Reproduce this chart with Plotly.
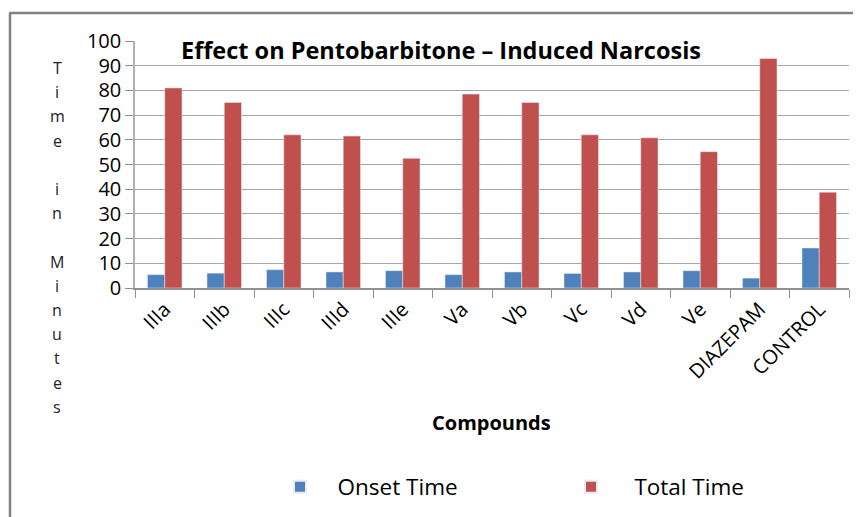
import plotly.graph_objects as go

categories = ["IIIa", "IIIb", "IIIc", "IIId", "IIIe", "Va", "Vb", "Vc", "Vd", "Ve", "DIAZEPAM", "CONTROL"]
onset_time = [5.4, 6.0, 7.4, 6.5, 7.0, 5.4, 6.5, 5.9, 6.5, 7.0, 4.0, 16.2]
total_time = [81.0, 75.1, 62.0, 61.5, 52.5, 78.5, 75.1, 62.0, 60.8, 55.2, 92.9, 38.8]
y_ticks = [0, 10, 20, 30, 40, 50, 60, 70, 80, 90, 100]
y_title = "Time in Minutes"

# page offset (default body margin of the html page)
OFF = 8
W, H = 861, 517
L = 135 - OFF
T = 41 - OFF
R = W - (849 - OFF)
B = H - (288 - OFF)
pw, ph = W - L - R, H - T - B

def px_x(x):
    return (x - OFF - L) / pw

def px_y(y):
    return (H - B - (y - OFF)) / ph

FONT = "Open Sans"
NB = "\u00a0"

fig = go.Figure()
fig.add_trace(go.Bar(x=categories, y=onset_time, name=NB * 3 + "Onset Time", marker_color="#4F81BD"))
fig.add_trace(go.Bar(x=categories, y=total_time, name=NB * 4 + "Total Time", marker_color="#C0504D"))

ann = [
    dict(text="<b>Effect on Pentobarbitone – Induced Narcosis</b>", x=px_x(441), y=px_y(50),
         xref="paper", yref="paper", xanchor="center", yanchor="middle", showarrow=False,
         font=dict(family=FONT, size=23.5, color="#000")),
    dict(text="<b>Compounds</b>", x=px_x(491), y=px_y(422), xref="paper", yref="paper",
         xanchor="center", yanchor="middle", showarrow=False,
         font=dict(family=FONT, size=20, color="#000")),
]
for i, ch in enumerate(y_title):
    if ch == " ":
        continue
    ann.append(dict(text=ch, x=px_x(57), y=px_y(68 + i * 24.2), xref="paper", yref="paper",
                    xanchor="center", yanchor="middle", showarrow=False,
                    font=dict(family=FONT, size=16, color="#222")))

shapes = [
    dict(type="line", xref="paper", yref="paper", x0=px_x(10), x1=px_x(10), y0=px_y(13), y1=px_y(540),
         line=dict(color="#808080", width=2.5)),
    dict(type="line", xref="paper", yref="paper", x0=px_x(9), x1=px_x(880), y0=px_y(13), y1=px_y(13),
         line=dict(color="#808080", width=2.5)),
]

fig.update_layout(
    width=W, height=H,
    margin=dict(l=L, r=R, t=T, b=B, autoexpand=False),
    paper_bgcolor="white", plot_bgcolor="white",
    barmode="group", bargap=0.42, bargroupgap=0,
    font=dict(family=FONT, color="#000"),
    annotations=ann, shapes=shapes,
    legend=dict(orientation="h", x=px_x(280), y=px_y(487), xanchor="left", yanchor="middle",
                entrywidth=246, entrywidthmode="pixels", font=dict(family=FONT, size=22.5, color="#000"),
                itemsizing="constant", tracegroupgap=0),
)
fig.update_xaxes(
    automargin=False,
    showline=True, linecolor="#909090", linewidth=1.5,
    ticks="outside", tickson="boundaries", ticklen=8, tickcolor="#909090",
    tickangle=-45, tickfont=dict(family=FONT, size=20, color="#000"),
    showgrid=False,
)
fig.update_yaxes(
    automargin=False,
    range=[0, 100], tickvals=y_ticks, showline=True, linecolor="#b0b0b0", linewidth=1.5,
    ticks="outside", ticklen=8, tickcolor="#909090",
    showgrid=True, gridcolor="#a6a6a6", gridwidth=1.2,
    tickfont=dict(family=FONT, size=20, color="#000"), zeroline=False,
)

fig.write_html("out.html")
